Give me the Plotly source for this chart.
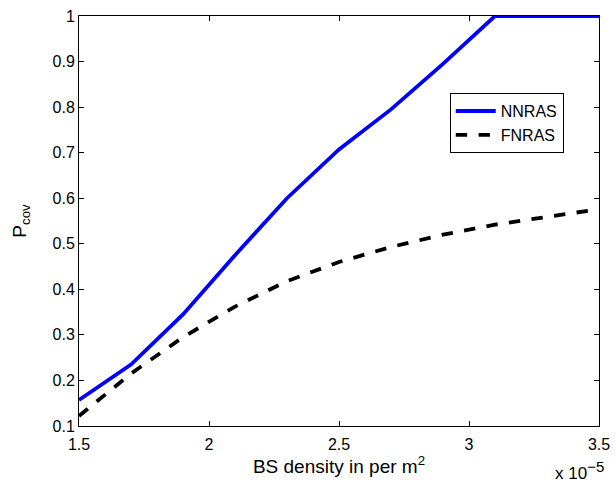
import plotly.graph_objects as go

density = [1.5, 1.7, 1.9, 2.1, 2.3, 2.5, 2.7, 2.9, 3.1, 3.3, 3.5]
nnras = [0.157, 0.235, 0.345, 0.475, 0.600, 0.707, 0.795, 0.895, 1.0, 1.0, 1.0]
fnras = [0.122, 0.215, 0.295, 0.362, 0.418, 0.460, 0.493, 0.520, 0.542, 0.560, 0.576]

x_ticks = [1.5, 2, 2.5, 3, 3.5]
x_ticktext = ["1.5", "2", "2.5", "3", "3.5"]
y_ticks = [0.1, 0.2, 0.3, 0.4, 0.5, 0.6, 0.7, 0.8, 0.9, 1.0]
y_ticktext = ["0.1", "0.2", "0.3", "0.4", "0.5", "0.6", "0.7", "0.8", "0.9", "1"]

FONT = "Liberation Sans, Arial, Helvetica, sans-serif"

fig = go.Figure()
fig.add_trace(go.Scatter(x=density, y=nnras, mode="lines", name="NNRAS",
                         line=dict(color="#0000ff", width=3.8)))
fig.add_trace(go.Scatter(x=density, y=fnras, mode="lines", name="FNRAS",
                         line=dict(color="#000000", width=3.8, dash="dash")))

axis_common = dict(showgrid=False, zeroline=False, showline=True, linecolor="black",
                   linewidth=1, mirror="ticks", ticks="inside", ticklen=5,
                   tickcolor="black", tickfont=dict(family=FONT, size=16, color="black"))

fig.update_layout(
    width=616, height=484,
    margin=dict(l=79, r=17, t=16, b=58),
    paper_bgcolor="white", plot_bgcolor="white",
    font=dict(family=FONT, color="black"),
    xaxis=dict(range=[1.5, 3.5], tickvals=x_ticks, ticktext=x_ticktext,
               ticklabelstandoff=4,
               title=dict(text="BS density in per m<sup>2</sup>", font=dict(size=19), standoff=6),
               automargin=False, **axis_common),
    yaxis=dict(range=[0.1, 1.0], tickvals=y_ticks, ticktext=y_ticktext,
               title=dict(text="P<sub>cov</sub>", font=dict(size=19), standoff=20),
               automargin=False, **axis_common),
    legend=dict(x=0.713, y=0.812, xanchor="left", yanchor="top",
                bgcolor="white", bordercolor="black", borderwidth=1,
                font=dict(family=FONT, size=16, color="black"),
                itemwidth=40, tracegroupgap=0),
    showlegend=True,
)
fig.add_annotation(text="x 10<sup><span style='font-size:15px'>−5</span></sup>",
                   xref="paper", yref="paper",
                   x=1.014, y=-0.072, xanchor="right", yanchor="top", showarrow=False,
                   font=dict(family=FONT, size=17, color="black"))

fig.write_html("out.html", post_script="document.body.style.margin='0';",
               config={"displayModeBar": False})
